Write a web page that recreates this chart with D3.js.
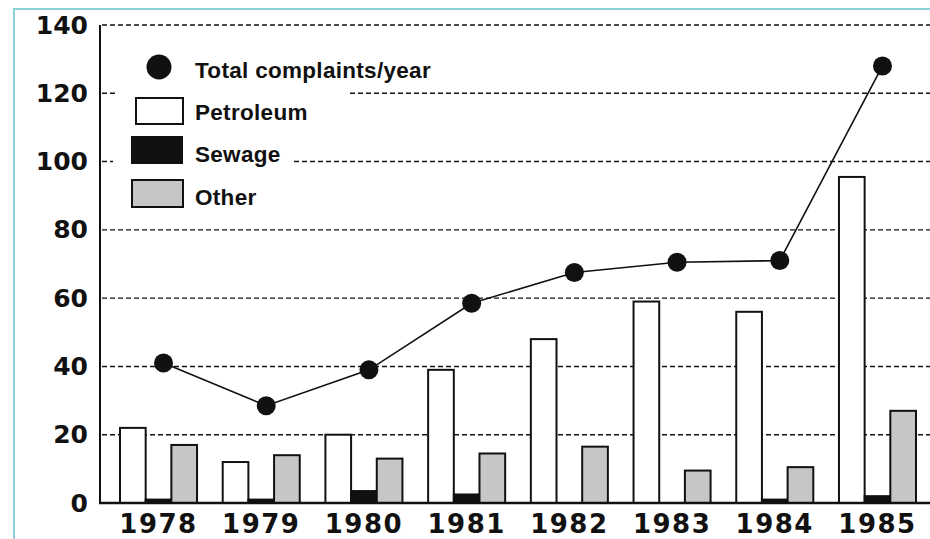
<!DOCTYPE html>
<html>
<head>
<meta charset="utf-8">
<script src="https://cdn.jsdelivr.net/npm/d3@7"></script>
<style>
  body { margin: 0; background: #fff; }
  svg { display: block; }
</style>
</head>
<body>
<div id="chart"></div>
<script>
var years = ["1978", "1979", "1980", "1981", "1982", "1983", "1984", "1985"];
var seriesNames = ["Petroleum", "Sewage", "Other"];
var petroleum = [22, 12, 20, 39, 48, 59, 56, 95.5];
var sewage = [1, 1, 3.5, 2.5, 0, 0, 1, 2];
var other = [17, 14, 13, 14.5, 16.5, 9.5, 10.5, 27];
var totals = [41, 28.5, 39, 58.5, 67.5, 70.5, 71, 128];
var yTicks = [0, 20, 40, 60, 80, 100, 120, 140];
var legendLabels = ["Total complaints/year", "Petroleum", "Sewage", "Other"];

var width = 930, height = 539;
var fills = {Petroleum: "#ffffff", Sewage: "#111111", Other: "#c6c6c6"};

var svg = d3.select("#chart").append("svg")
	.attr("width", width)
	.attr("height", height);

// scanned page frame
svg.append("path")
	.attr("d", "M14,539 L14,9 L930,9")
	.attr("fill", "none")
	.attr("stroke", "#8fd0dd")
	.attr("stroke-width", 2);

var y = d3.scaleLinear().domain([0, 140]).range([503, 25]);
var x = d3.scaleBand().domain(years).range([120, 916]).paddingInner(0.25);
var xInner = d3.scaleBand().domain(seriesNames).range([0, x.bandwidth()]);

// dashed grid
svg.append("g").selectAll("line")
	.data(yTicks.filter(function(d) { return d > 0; }))
	.enter().append("line")
	.attr("x1", 102).attr("x2", width)
	.attr("y1", function(d) { return y(d); })
	.attr("y2", function(d) { return y(d); })
	.attr("stroke", "#111")
	.attr("stroke-width", 1.4)
	.attr("stroke-dasharray", "5,3");

// y tick labels
var yAxis = d3.axisLeft(y).tickValues(yTicks).tickSize(0).tickPadding(12);
var yg = svg.append("g").attr("transform", "translate(100,0)").call(yAxis);
yg.select(".domain").remove();
yg.selectAll("text")
	.attr("font-family", "DejaVu Sans")
	.attr("font-weight", "bold")
	.attr("font-size", 25)
	.attr("fill", "#111");

// legend white patches (paste-up covers part of the grid)
var legendCover = [[118, 50, 350, 100], [118, 96, 310, 128], [113, 132, 292, 168], [118, 174, 262, 212]];
svg.append("g").selectAll("rect")
	.data(legendCover)
	.enter().append("rect")
	.attr("x", function(d) { return d[0]; })
	.attr("y", function(d) { return d[1]; })
	.attr("width", function(d) { return d[2] - d[0]; })
	.attr("height", function(d) { return d[3] - d[1]; })
	.attr("fill", "#fff");

// bars
var barData = [];
years.forEach(function(yr, i) {
	barData.push({year: yr, key: "Petroleum", value: petroleum[i]});
	barData.push({year: yr, key: "Sewage", value: sewage[i]});
	barData.push({year: yr, key: "Other", value: other[i]});
});

svg.append("g").selectAll("rect")
	.data(barData.filter(function(d) { return d.value > 0; }))
	.enter().append("rect")
	.attr("x", function(d) { return x(d.year) + xInner(d.key); })
	.attr("y", function(d) { return y(d.value); })
	.attr("width", xInner.bandwidth())
	.attr("height", function(d) { return y(0) - y(d.value); })
	.attr("fill", function(d) { return fills[d.key]; })
	.attr("stroke", "#111")
	.attr("stroke-width", 2);

// axes lines
svg.append("line")
	.attr("x1", 100).attr("x2", 100)
	.attr("y1", y(140)).attr("y2", y(0))
	.attr("stroke", "#111").attr("stroke-width", 2);
svg.append("line")
	.attr("x1", 99).attr("x2", width)
	.attr("y1", y(0)).attr("y2", y(0))
	.attr("stroke", "#111").attr("stroke-width", 2.5);

// year labels
var xAxis = d3.axisBottom(x).tickSize(0).tickPadding(12);
var xg = svg.append("g").attr("transform", "translate(0," + y(0) + ")").call(xAxis);
xg.select(".domain").remove();
xg.selectAll("text")
	.attr("font-family", "DejaVu Sans")
	.attr("font-weight", "bold")
	.attr("font-size", 26)
	.attr("letter-spacing", 1.5)
	.attr("fill", "#111");

// totals line
var cx = function(d, i) { return x(years[i]) + x.bandwidth() / 2 + 5; };
var line = d3.line()
	.x(function(d, i) { return cx(d, i); })
	.y(function(d) { return y(d); });

svg.append("path")
	.datum(totals)
	.attr("d", line)
	.attr("fill", "none")
	.attr("stroke", "#111")
	.attr("stroke-width", 1.6);

svg.append("g").selectAll("circle")
	.data(totals)
	.enter().append("circle")
	.attr("cx", cx)
	.attr("cy", function(d) { return y(d); })
	.attr("r", 9.5)
	.attr("fill", "#111");

// legend
var legend = svg.append("g");
legend.append("circle")
	.attr("cx", 159).attr("cy", 67).attr("r", 12.5)
	.attr("fill", "#111");
var legendBoxes = [[136, 98, 47, 26], [132, 137, 50, 26], [132, 180, 51, 27]];
legend.selectAll("rect")
	.data(seriesNames)
	.enter().append("rect")
	.attr("x", function(d, i) { return legendBoxes[i][0]; })
	.attr("y", function(d, i) { return legendBoxes[i][1]; })
	.attr("width", function(d, i) { return legendBoxes[i][2]; })
	.attr("height", function(d, i) { return legendBoxes[i][3]; })
	.attr("fill", function(d) { return fills[d]; })
	.attr("stroke", "#111")
	.attr("stroke-width", 2);

var legendBaselines = [78, 120, 162, 205];
legend.selectAll("text")
	.data(legendLabels)
	.enter().append("text")
	.attr("x", 195)
	.attr("y", function(d, i) { return legendBaselines[i]; })
	.attr("font-family", "Liberation Sans")
	.attr("font-weight", "bold")
	.attr("font-size", 22.5)
	.attr("letter-spacing", 0.3)
	.attr("fill", "#111")
	.text(function(d) { return d; });
</script>
</body>
</html>
